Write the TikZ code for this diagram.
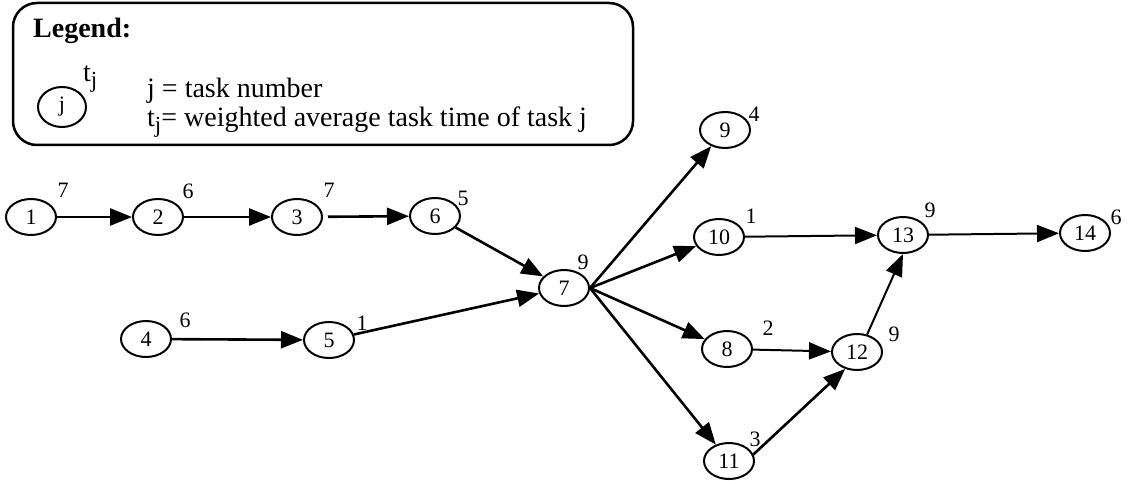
\documentclass[tikz,border=0pt]{standalone}
\usepackage{fontspec}
\setmainfont{Liberation Serif}
\usetikzlibrary{arrows.meta,shapes.geometric}
\newcommand\tjsub{t\raisebox{-0.45ex}{\fontsize{23}{23}\selectfont j}}
\begin{document}
\begin{tikzpicture}[x=1pt,y=-1pt,
  task/.style={draw, line width=2pt, ellipse, minimum width=50pt, minimum height=36pt, inner sep=0pt, font=\fontsize{22}{22}\selectfont},
  tlabel/.style={inner sep=0pt, font=\fontsize{22}{22}\selectfont},
  arr/.style={line width=2.6pt, -{Triangle[length=22pt,width=17pt]}},
  arrthin/.style={line width=2pt, -{Triangle[length=22pt,width=17pt]}},
  legtext/.style={inner sep=0pt, anchor=base west, font=\fontsize{28}{30}\selectfont},
]
\useasboundingbox (0,0) rectangle (1132,481);

% legend
\node[draw, line width=2.5pt, rounded corners=24pt, minimum width=620pt, minimum height=142pt, inner sep=0pt] (legend) at (323,74) {};
\node[legtext, font=\bfseries\fontsize{28}{30}\selectfont] (legtitle) at (33,38) {Legend:};
\node[draw, line width=2pt, ellipse, minimum width=48pt, minimum height=40pt, inner sep=0pt, font=\fontsize{22}{22}\selectfont] (lj) at (62,107) {j};
\node[legtext] (ltj) at (83,82) {\tjsub};
\node[legtext] (lline1) at (147,98) {j = task number};
\node[legtext] (lline2) at (147,127) {\tjsub= weighted average task time of task j};

% tasks
\node[task] (n1) at (31,217) {1};
\node[task] (n2) at (158,217) {2};
\node[task] (n3) at (297,217) {3};
\node[task] (n6) at (435,216) {6};
\node[task] (n4) at (146,339) {4};
\node[task] (n5) at (329,340) {5};
\node[task] (n7) at (564,288) {7};
\node[task] (n9) at (725,130) {9};
\node[task] (n10) at (719,237) {10};
\node[task] (n13) at (903,235) {13};
\node[task] (n14) at (1085,233) {14};
\node[task] (n8) at (727,349) {8};
\node[task] (n12) at (857,352) {12};
\node[task] (n11) at (729,461) {11};

% task times
\node[tlabel] (t1) at (63,190) {7};
\node[tlabel] (t2) at (188,191) {6};
\node[tlabel] (t3) at (329,190) {7};
\node[tlabel] (t6) at (463,198) {5};
\node[tlabel] (t4) at (185,320) {6};
\node[tlabel] (t5) at (362,323) {1};
\node[tlabel] (t7) at (583,262) {9};
\node[tlabel] (t9) at (754,114) {4};
\node[tlabel] (t10) at (751,216) {1};
\node[tlabel] (t13) at (930,210) {9};
\node[tlabel] (t14) at (1116,217) {6};
\node[tlabel] (t8) at (768,328) {2};
\node[tlabel] (t12) at (894,334) {9};
\node[tlabel] (t11) at (755,439) {3};

% precedence arrows
\draw[arr] (n1) -- (n2);
\draw[arr] (n2) -- (n3);
\draw[arr, shorten <=5pt] (n3) -- (n6);
\draw[arr] (n6) -- (n7);
\draw[arr] (n4) -- (n5);
\draw[arr] (n5) -- (n7);
\draw[arr] (n7.east) -- (n9);
\draw[arr] (n7.east) -- (n10);
\draw[arr] (n7.east) -- (n8);
\draw[arr] (n7.east) -- (n11);
\draw[arrthin] (n10) -- (n13);
\draw[arrthin] (n13) -- (n14);
\draw[arrthin] (n8) -- (n12);
\draw[arr] (n11.15) -- (n12.235);
\draw[arrthin] (n12.60) -- (n13.south);
\end{tikzpicture}
\end{document}
